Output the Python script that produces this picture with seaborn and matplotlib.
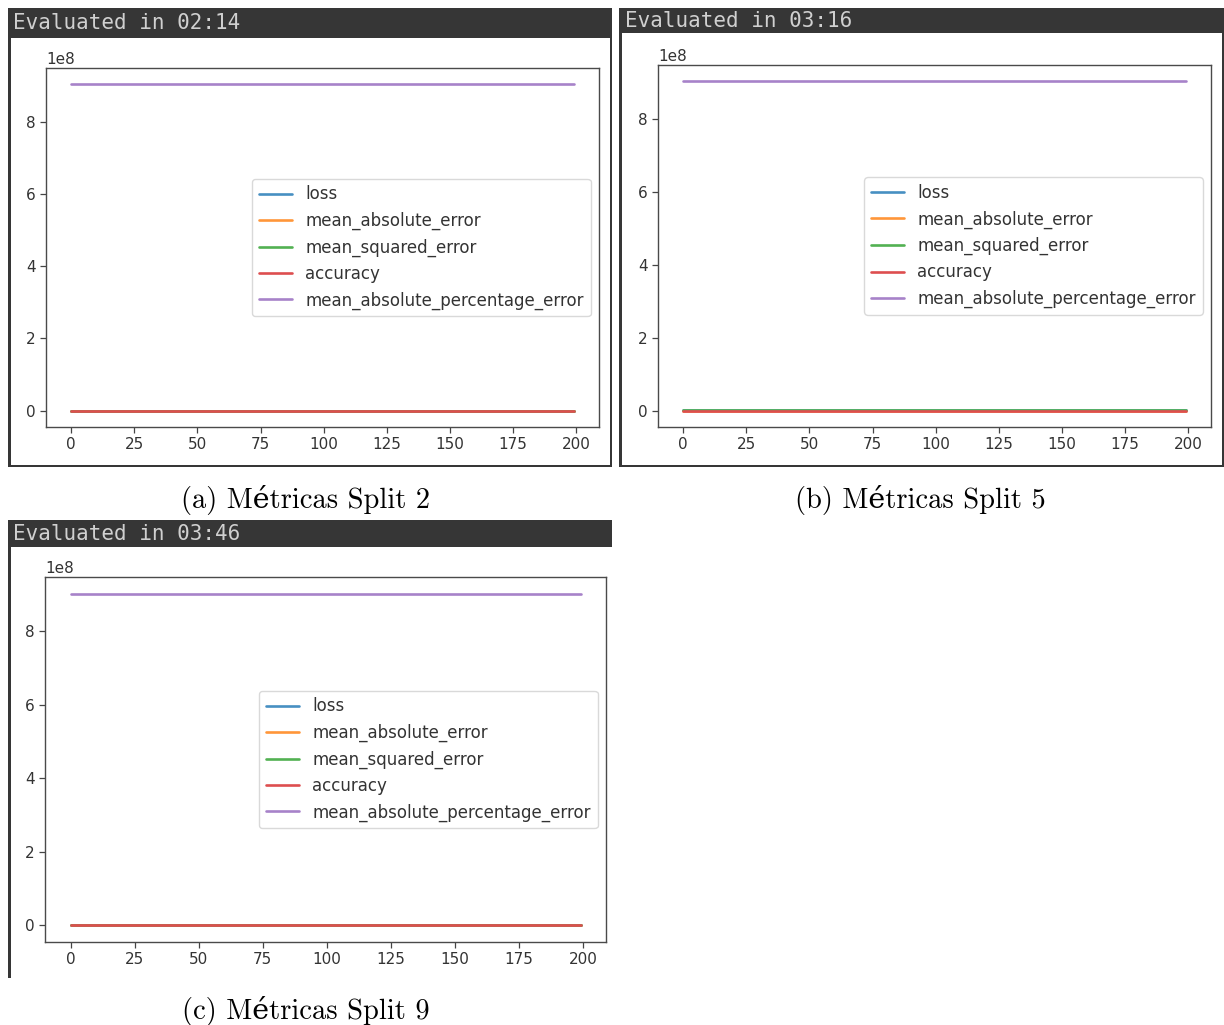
import numpy as np
import pandas as pd
import matplotlib
matplotlib.use("Agg")
import matplotlib.pyplot as plt
from matplotlib.patches import Rectangle
import seaborn as sns

# ---------------- data ----------------
metrics = ["loss", "mean_absolute_error", "mean_squared_error", "accuracy",
           "mean_absolute_percentage_error"]
epochs = [0, 50, 100, 150, 199]

# split 2
split2_loss = [2.1e5, 2.1e5, 2.1e5, 2.1e5, 2.1e5]
split2_mae = [3.2e2, 3.2e2, 3.2e2, 3.2e2, 3.2e2]
split2_mse = [2.1e5, 2.1e5, 2.1e5, 2.1e5, 2.1e5]
split2_acc = [0.0, 0.0, 0.0, 0.0, 0.0]
split2_mape = [9.03e8, 9.03e8, 9.03e8, 9.03e8, 9.03e8]
# split 5
split5_loss = [2.1e5, 2.1e5, 2.1e5, 2.1e5, 2.1e5]
split5_mae = [3.2e2, 3.2e2, 3.2e2, 3.2e2, 3.2e2]
split5_mse = [2.1e5, 2.1e5, 2.1e5, 2.1e5, 2.1e5]
split5_acc = [0.0, 0.0, 0.0, 0.0, 0.0]
split5_mape = [9.02e8, 9.02e8, 9.02e8, 9.02e8, 9.02e8]
# split 9
split9_loss = [2.1e5, 2.1e5, 2.1e5, 2.1e5, 2.1e5]
split9_mae = [3.2e2, 3.2e2, 3.2e2, 3.2e2, 3.2e2]
split9_mse = [2.1e5, 2.1e5, 2.1e5, 2.1e5, 2.1e5]
split9_acc = [0.0, 0.0, 0.0, 0.0, 0.0]
split9_mape = [9.03e8, 9.03e8, 9.03e8, 9.03e8, 9.03e8]

headers = ["Evaluated in 02:14", "Evaluated in 03:16", "Evaluated in 03:46"]
captions = ["(a) Métricas Split 2", "(b) Métricas Split 5", "(c) Métricas Split 9"]
xticks = [0, 25, 50, 75, 100, 125, 150, 175, 200]

splits = [
    [split2_loss, split2_mae, split2_mse, split2_acc, split2_mape],
    [split5_loss, split5_mae, split5_mse, split5_acc, split5_mape],
    [split9_loss, split9_mae, split9_mse, split9_acc, split9_mape],
]

# ---------------- style ----------------
sns.set_theme(style="ticks")
plt.rcParams["font.family"] = ["DejaVu Sans"]
base = sns.color_palette("tab10", 5)
# the screenshot colours look slightly washed out
palette = [tuple(0.82 * c + 0.18 for c in col) for col in base]

W, H = 1224, 1025
fig = plt.figure(figsize=(W / 100, H / 100), dpi=100)
fig.patch.set_facecolor("white")


def rect(x0, y0, x1, y1, **kw):
    r = Rectangle((x0 / W, 1 - y1 / H), (x1 - x0) / W, (y1 - y0) / H,
                  transform=fig.transFigure, **kw)
    fig.add_artist(r)
    return r


dark = "#363636"
# panel a
rect(8, 8, 612, 38, facecolor=dark, edgecolor="none", zorder=0)
rect(8, 8, 11, 467, facecolor=dark, edgecolor="none", zorder=0)
rect(8, 465, 612, 467, facecolor=dark, edgecolor="none", zorder=0)
rect(610, 8, 612, 467, facecolor=dark, edgecolor="none", zorder=0)
# panel b
rect(619, 8, 1224, 33, facecolor=dark, edgecolor="none", zorder=0)
rect(619, 8, 622, 467, facecolor=dark, edgecolor="none", zorder=0)
rect(619, 465, 1224, 467, facecolor=dark, edgecolor="none", zorder=0)
rect(1222, 8, 1224, 467, facecolor=dark, edgecolor="none", zorder=0)
# panel c
rect(8, 520, 612, 547, facecolor=dark, edgecolor="none", zorder=0)
rect(8, 520, 11, 978, facecolor=dark, edgecolor="none", zorder=0)

header_pos = [(13, 23), (625, 21), (13, 534)]
caption_pos = [(306, 500), (920, 500), (306, 1011)]
axes_px = [(46, 68, 599, 427), (658, 65, 1211, 427), (45, 577, 606, 942)]

for i, (vals, hdr, cap) in enumerate(zip(splits, headers, captions)):
    l, t, r, b = axes_px[i]
    ax = fig.add_axes([l / W, 1 - b / H, (r - l) / W, (b - t) / H])
    ax.set_facecolor("white")
    for name, series, col in zip(metrics, vals, palette):
        sns.lineplot(x=epochs, y=series, ax=ax, color=col, label=name,
                     linewidth=1.9)
    ax.set_xticks(xticks)
    ax.set_yticks([0, 2e8, 4e8, 6e8, 8e8])
    ax.margins(x=0.05, y=0.05)
    ax.tick_params(axis="both", labelsize=11, length=4, width=0.9,
                   color="#444444", labelcolor="#333333", direction="out")
    for sp in ax.spines.values():
        sp.set_visible(True)
        sp.set_color("#4a4a4a")
        sp.set_linewidth(1.0)
    ax.yaxis.get_offset_text().set_fontsize(11)
    ax.yaxis.get_offset_text().set_color("#333333")
    ax.set_xlabel("")
    ax.set_ylabel("")
    leg = ax.legend(loc="center right", fontsize=12, frameon=True,
                    labelcolor="#333333")
    leg.get_frame().set_edgecolor("#d0d0d0")

    hx, hy = header_pos[i]
    fig.text(hx / W, 1 - hy / H, hdr, family="DejaVu Sans Mono", fontsize=15,
             color="#d0d0d0", ha="left", va="center")
    cx, cy = caption_pos[i]
    fig.text(cx / W, 1 - cy / H, cap, family=["cmr10", "DejaVu Serif"],
             fontsize=20.5, color="black", ha="center", va="center")

fig.savefig("out.png", dpi=100, facecolor="white")
